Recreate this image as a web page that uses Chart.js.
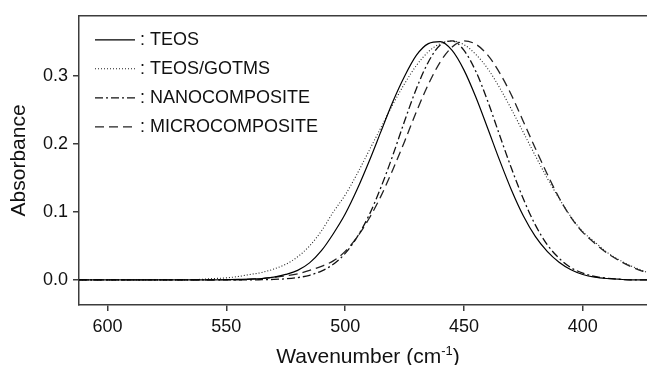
<!DOCTYPE html>
<html>
<head>
<meta charset="utf-8">
<script src="https://cdn.jsdelivr.net/npm/chart.js@4.4.0/dist/chart.umd.min.js"></script>
<style>
  html,body{margin:0;padding:0;background:#fff;}
  #wrap{width:647px;height:365px;position:relative;}
</style>
</head>
<body>
<div id="wrap"><canvas id="absChart"></canvas></div>
<script>
// wavenumber grid (cm-1), shared by the four spectra
const wavenumbers = [612,600,590,580,570,565,560,555,550,545,540,535,530,525,520,515,510,505,500,495,490,485,480,475,470,465,460,455,450,445,440,435,430,425,420,415,410,405,400,395,390,385,380,375,373];

const teos = [0,0,0,0,0,0,0,0,0.0003,0.0006,0.001,0.002,0.004,0.008,0.014,0.025,0.043,0.068,0.097,0.133,0.174,0.218,0.262,0.300,0.331,0.348,0.351,0.338,0.309,0.269,0.223,0.176,0.132,0.094,0.064,0.042,0.026,0.015,0.008,0.004,0.002,0.001,0,0,0];
const teosGotms = [0,0,0,0,0,0,0.001,0.002,0.003,0.005,0.008,0.011,0.016,0.023,0.034,0.050,0.072,0.100,0.125,0.156,0.190,0.224,0.258,0.289,0.316,0.336,0.348,0.352,0.3465,0.332,0.311,0.283,0.251,0.217,0.183,0.150,0.120,0.093,0.071,0.056,0.041,0.030,0.021,0.014,0.011];
const nano = [0,0,0,0,0,0,0,0,0,0,0,0.0003,0.0007,0.0016,0.0034,0.0068,0.013,0.023,0.039,0.063,0.095,0.136,0.183,0.234,0.282,0.321,0.346,0.352,0.338,0.307,0.263,0.213,0.164,0.119,0.081,0.052,0.032,0.018,0.010,0.005,0.0025,0.001,0,0,0];
const micro = [0,0,0,0,0,0,0,0,0,0,0.001,0.002,0.004,0.006,0.009,0.014,0.020,0.028,0.042,0.063,0.090,0.123,0.162,0.204,0.248,0.288,0.321,0.343,0.352,0.347,0.331,0.305,0.272,0.233,0.194,0.156,0.121,0.092,0.070,0.054,0.040,0.029,0.020,0.013,0.011];

const seriesNames = ['TEOS','TEOS/GOTMS','NANOCOMPOSITE','MICROCOMPOSITE'];
const xTicks = [600,550,500,450,400];
const yTicks = [0,0.1,0.2,0.3];

const FONT = '"Liberation Sans", Arial, Helvetica, sans-serif';
const AXIS = '#3c3c3c';
Chart.defaults.font.family = FONT;
Chart.defaults.color = '#111';

function pts(vals){ return wavenumbers.map((x,i)=>({x, y: vals[i]})); }
function ds(label, vals, dash, color, width){
  return { label, data: pts(vals), borderColor: color, borderWidth: width, borderDash: dash,
    pointRadius: 0, fill: false, cubicInterpolationMode: 'monotone' };
}

// top frame line
const frame = {
  id: 'frame',
  afterDraw(chart){
    const {ctx, chartArea:a} = chart;
    ctx.save();
    ctx.strokeStyle = AXIS; ctx.lineWidth = 1.5;
    ctx.beginPath(); ctx.moveTo(a.left, a.top); ctx.lineTo(a.right, a.top); ctx.stroke();
    ctx.restore();
  }
};

// legend inside the plot: line sample + ": name"
const inLegend = {
  id: 'inLegend',
  afterDraw(chart){
    const {ctx, chartArea:a} = chart;
    ctx.save();
    chart.data.datasets.forEach((d,i)=>{
      const y = a.top + 24 + i*29;
      ctx.strokeStyle = d.borderColor; ctx.lineWidth = d.borderWidth;
      ctx.setLineDash(d.borderDash || []);
      ctx.beginPath(); ctx.moveTo(a.left+16, y); ctx.lineTo(a.left+56, y); ctx.stroke();
      ctx.setLineDash([]);
      ctx.fillStyle = '#111'; ctx.font = '18px ' + FONT; ctx.textBaseline = 'middle';
      ctx.fillText(': ' + d.label, a.left+61, y);
    });
    ctx.restore();
  }
};

// x title with superscript
const xTitle = {
  id: 'xTitle',
  afterDraw(chart){
    const {ctx, chartArea:a} = chart;
    const big = '21px ' + FONT, small = '13px ' + FONT;
    ctx.save();
    ctx.fillStyle = '#111'; ctx.textBaseline = 'alphabetic';
    ctx.font = big;
    const t1 = 'Wavenumber (cm', t3 = ')';
    const w1 = ctx.measureText(t1).width, w3 = ctx.measureText(t3).width;
    ctx.font = small;
    const w2 = ctx.measureText('-1').width;
    let x = (a.left + a.right)/2 + 5 - (w1+w2+w3)/2;
    const y = chart.height - 2;
    ctx.font = big; ctx.fillText(t1, x, y); x += w1;
    ctx.font = small; ctx.fillText('-1', x, y - 8); x += w2;
    ctx.font = big; ctx.fillText(t3, x, y);
    ctx.restore();
  }
};

new Chart(document.getElementById('absChart'), {
  type: 'line',
  data: { datasets: [
    ds(seriesNames[0], teos, [], '#000', 1.2),
    ds(seriesNames[1], teosGotms, [1,2], '#222', 1.1),
    ds(seriesNames[2], nano, [8,3,2,3], '#111', 1.3),
    ds(seriesNames[3], micro, [9,5], '#222', 1.3)
  ]},
  options: {
    responsive: true, maintainAspectRatio: false, animation: false,
    layout: { padding: { top: 11, right: 0, left: 0, bottom: 0 } },
    plugins: { legend: { display: false }, tooltip: { enabled: false } },
    scales: {
      x: {
        type: 'linear', position: 'bottom', reverse: true, min: 373, max: 612,
        afterBuildTicks: s => { s.ticks = xTicks.map(v => ({value: v})); },
        afterFit: s => { s.height = 60; },
        grid: { display: true, drawOnChartArea: false, drawTicks: true, tickLength: 6, color: AXIS, lineWidth: 1.5 },
        border: { display: true, color: AXIS, width: 1.5 },
        ticks: { font: { size: 18 }, color: '#111', padding: 5, maxRotation: 0, autoSkip: false, callback: v => String(v) }
      },
      y: {
        min: -0.037, max: 0.389,
        afterBuildTicks: s => { s.ticks = yTicks.map(v => ({value: v})); },
        afterFit: s => { s.width = 79; },
        grid: { display: true, drawOnChartArea: false, drawTicks: true, tickLength: 6, color: AXIS, lineWidth: 1.5 },
        border: { display: true, color: AXIS, width: 1.5 },
        ticks: { font: { size: 18 }, color: '#111', padding: 5, callback: v => v.toFixed(1) },
        title: { display: true, text: 'Absorbance', font: { size: 21 }, color: '#111', padding: { top: 7, bottom: 0 } }
      }
    }
  },
  plugins: [frame, inLegend, xTitle]
});
</script>
</body>
</html>
